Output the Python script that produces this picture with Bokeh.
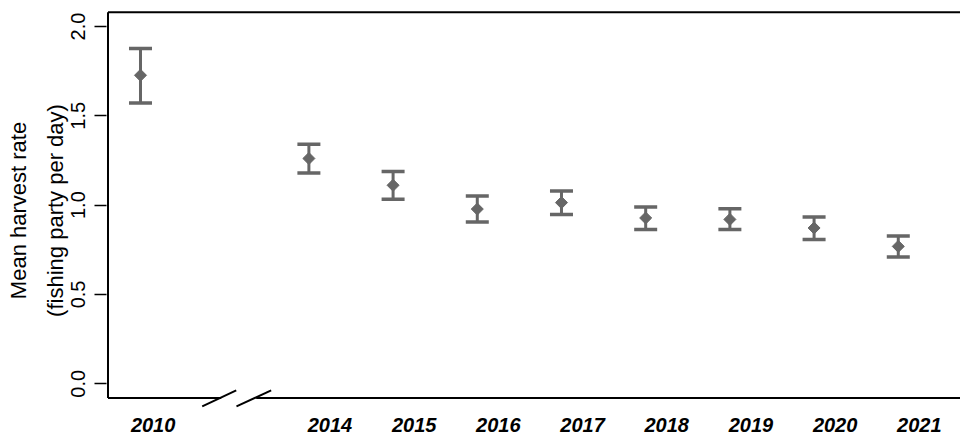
from math import pi
from bokeh.plotting import figure
from bokeh.models import (ColumnDataSource, Whisker, TeeHead, FixedTicker, Range1d)
from bokeh.embed import file_html
from bokeh.resources import INLINE

# ---- data ----
years = [2010, 2014, 2015, 2016, 2017, 2018, 2019, 2020, 2021]
mean_rate = [1.727, 1.261, 1.111, 0.978, 1.014, 0.928, 0.920, 0.872, 0.769]
upper_ci = [1.877, 1.341, 1.188, 1.051, 1.079, 0.989, 0.980, 0.933, 0.827]
lower_ci = [1.572, 1.180, 1.033, 0.905, 0.947, 0.863, 0.863, 0.807, 0.709]
y_ticks = [0.0, 0.5, 1.0, 1.5, 2.0]
y_tick_labels = ["0.0", "0.5", "1.0", "1.5", "2.0"]
y_title = ["Mean harvest rate", "(fishing party per day)"]

# axis break: 2010 in slot 0, 2014..2021 in slots 2..9
pos = [0] + [yr - 2012 for yr in years[1:]]

GREY = "#666666"
FONT = "Liberation Sans"

# visible box limits (R-style 4% padding) and slightly larger frame
bx0, by0, by1 = -0.386, -0.08, 2.08
x0, x1 = -0.4038, 9.739
y0, y1 = -0.1497, 2.0895

p = figure(width=960, height=437, output_backend="svg", toolbar_location=None,
           x_range=Range1d(x0, x1), y_range=Range1d(y0, y1),
           min_border_left=106, min_border_right=0, min_border_top=10,
           min_border_bottom=27)
p.outline_line_color = None
p.xgrid.visible = False
p.ygrid.visible = False
p.background_fill_color = "white"
p.border_fill_color = "white"

src = ColumnDataSource(dict(x=pos, mean=mean_rate, upper=upper_ci, lower=lower_ci))

wh = Whisker(source=src, base="x", upper="upper", lower="lower",
             dimension="height", line_color=GREY, line_width=3,
             upper_head=TeeHead(size=23, line_color=GREY, line_width=3.5),
             lower_head=TeeHead(size=23, line_color=GREY, line_width=3.5))
p.add_layout(wh)
p.scatter("x", "mean", source=src, marker="square", angle=pi / 4, size=8.5,
          fill_color=GREY, line_color=GREY)

# box lines: left, top, bottom (with a break) and break marks
gap_a, gap_b = 0.958, 1.374
p.segment(x0=[bx0, bx0, bx0, gap_b, 0.733, 1.140],
          y0=[by0, by1, by0, by0, -0.127, -0.127],
          x1=[bx0, x1, gap_a, x1, 1.137, 1.552],
          y1=[by1, by1, by0, by0, -0.0375, -0.0375],
          line_color="black", line_width=2)

# y axis
ya = p.yaxis[0]
ya.ticker = FixedTicker(ticks=y_ticks)
ya.major_label_overrides = {t: s for t, s in zip(y_ticks, y_tick_labels)}
ya.major_label_orientation = "vertical"
ya.major_tick_out = 12
ya.major_tick_in = 0
ya.minor_tick_line_color = None
ya.major_tick_line_width = 1.5
ya.major_tick_line_color = "black"
ya.axis_line_color = None
ya.major_label_standoff = 9
ya.major_label_text_font = FONT
ya.major_label_text_font_size = "20px"
ya.major_label_text_color = "black"
ya.axis_label = "\n".join(y_title)
ya.axis_label_text_font = FONT
ya.axis_label_text_font_size = "22px"
ya.axis_label_text_font_style = "normal"
ya.axis_label_text_color = "black"
ya.axis_label_text_line_height = 1.45
ya.axis_label_standoff = 1

# x axis (labels only)
shifts = [0.15] + [0.25] * (len(pos) - 1)
xt = [q + s for q, s in zip(pos, shifts)]
xa = p.xaxis[0]
xa.ticker = FixedTicker(ticks=xt)
xa.major_label_overrides = {t: str(yr) for t, yr in zip(xt, years)}
xa.axis_line_color = None
xa.major_tick_line_color = None
xa.minor_tick_line_color = None
xa.major_label_standoff = 1
xa.major_label_text_font = FONT
xa.major_label_text_font_size = "20px"
xa.major_label_text_font_style = "bold italic"
xa.major_label_text_color = "black"

open("out.html", "w").write(file_html(p, INLINE))
